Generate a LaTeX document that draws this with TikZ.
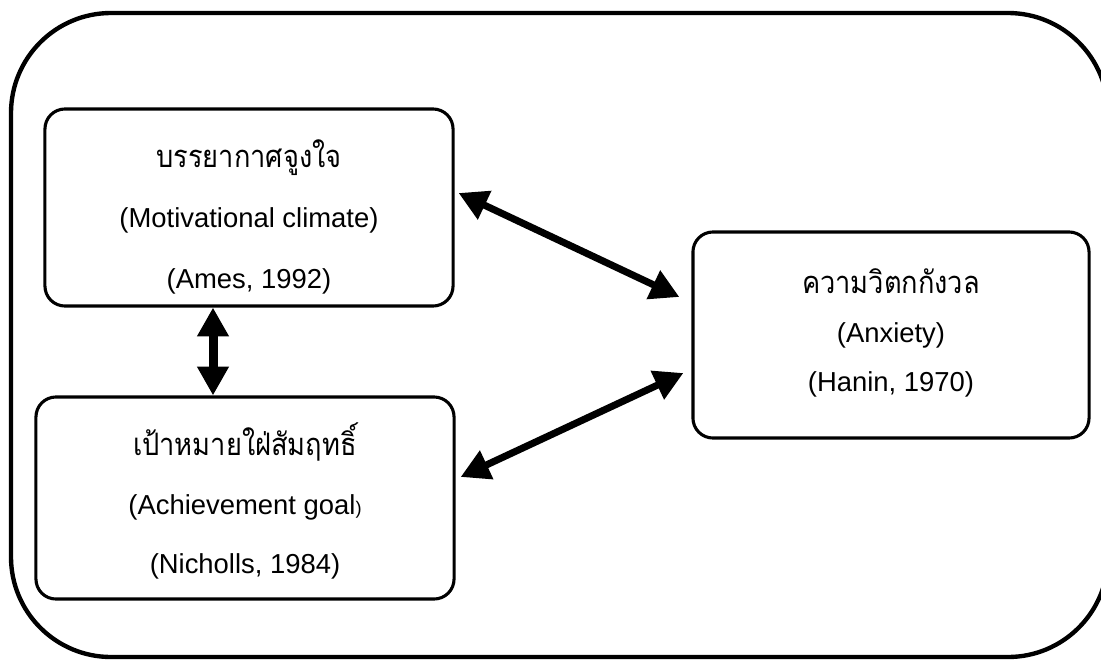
\documentclass[tikz,border=0pt]{standalone}
\usepackage{fontspec}
\setmainfont{Liberation Sans}
\newfontfamily\thaifont[Script=Thai, FakeStretch=0.88]{Loma}
\usetikzlibrary{arrows.meta, calc}

\begin{document}
\begin{tikzpicture}[x=0.025cm, y=-0.025cm,
  box/.style={draw, line width=2.2pt, rounded corners=0.5cm},
  txt/.style={align=center, font=\fontsize{19.5}{43}\selectfont},
  link/.style={{Triangle[length=0.72cm,width=0.75cm]}-{Triangle[length=0.72cm,width=0.75cm]},
               line width=5pt}]

  \useasboundingbox (0,0) rectangle (1101,660);
  % outer frame
  \draw[line width=3.1pt, rounded corners=2.5cm] (11,13) rectangle (1108,657);

  % boxes
  \node[box, minimum width=10.2cm, minimum height=4.925cm] (climate) at (249,207.5) {};
  \node[box, minimum width=10.45cm, minimum height=5.05cm] (goal) at (245,498) {};
  \node[box, minimum width=9.9cm, minimum height=5.15cm] (anxiety) at (891,335) {};

  % texts
  \node[txt] (climate-txt) at ($(climate.center)+(0,9)$)
    {{\thaifont\fontsize{22}{26}\selectfont บรรยากาศจูงใจ}\\(Motivational climate)\\(Ames, 1992)};
  \node[txt, font=\fontsize{19.5}{42}\selectfont] (goal-txt) at ($(goal.center)+(0,3)$)
    {{\thaifont\fontsize{22}{26}\selectfont เป้าหมายใฝ่สัมฤทธิ์}\\(Achievement goal{\fontsize{13}{13}\selectfont)}\\(Nicholls, 1984)};
  \node[txt, font=\fontsize{19.5}{35}\selectfont] (anxiety-txt) at ($(anxiety.center)+(0,-2)$)
    {{\thaifont\fontsize{22}{26}\selectfont ความวิตกกังวล}\\(Anxiety)\\(Hanin, 1970)};

  \coordinate (vx) at (213,0);
  \draw[link, line width=6.4pt] (vx |- climate.south) -- (vx |- goal.north);
  \draw[link] ($(climate.east)+(4,-14.5)$) -- ($(anxiety.west)+(-12,-38)$);
  \draw[link] ($(goal.east)+(5,-21)$) -- ($(anxiety.west)+(-8,38)$);

\end{tikzpicture}
\end{document}
